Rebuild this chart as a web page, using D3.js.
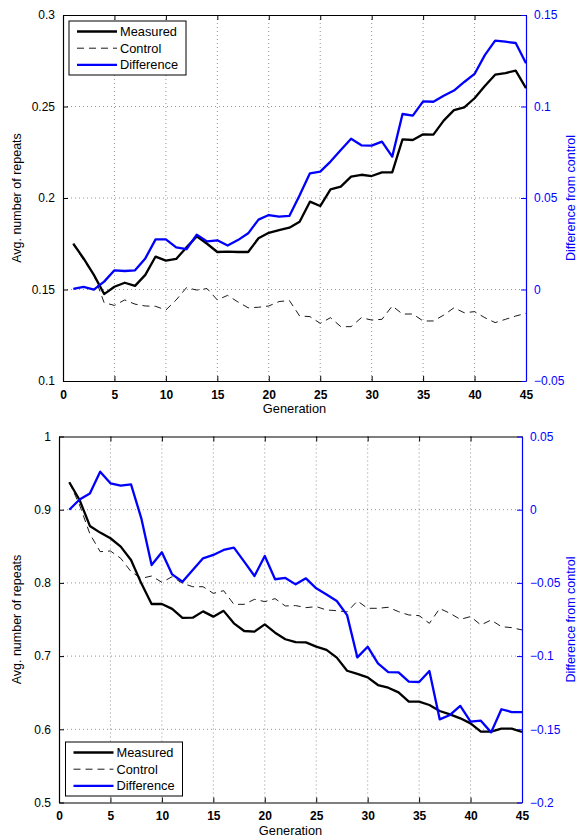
<!DOCTYPE html>
<html>
<head>
<meta charset="utf-8">
<script src="https://cdn.jsdelivr.net/npm/d3@7"></script>
<style>
 body { margin:0; background:#fff; }
 svg text { font-family: "Liberation Sans", Arial, sans-serif; }
</style>
</head>
<body>
<div id="chart"></div>
<script>
// generations 1..45
var generations = d3.range(1, 46);

// top panel
var topMeasured = [0.175,0.167,0.158,0.1475,0.1515,0.1537,0.152,0.158,0.168,0.1658,
  0.1667,0.173,0.179,0.175,0.1705,0.1707,0.1705,0.1705,0.178,0.181,
  0.1825,0.1838,0.187,0.198,0.1956,0.2047,0.2062,0.2117,0.2127,0.212,
  0.214,0.214,0.232,0.2317,0.2348,0.2346,0.2423,0.248,0.2495,0.2545,
  0.2612,0.2674,0.2683,0.2696,0.26];
var topControl = [0.175,0.166,0.158,0.1428,0.1413,0.1443,0.142,0.141,0.1408,0.1388,
  0.1443,0.151,0.1497,0.1505,0.1443,0.1468,0.1432,0.140,0.1403,0.141,
  0.1434,0.144,0.1355,0.1352,0.1315,0.1346,0.1297,0.1297,0.1346,0.1333,
  0.1337,0.141,0.1366,0.1366,0.1328,0.1328,0.136,0.140,0.1373,0.1379,
  0.1346,0.1319,0.1337,0.1355,0.137];
var topDiff = [0.0003,0.0014,-0.0001,0.0043,0.0105,0.0101,0.0105,0.017,0.0274,0.0274,
  0.023,0.022,0.030,0.0263,0.0269,0.024,0.027,0.0307,0.0382,0.0407,
  0.0398,0.0402,0.0515,0.0635,0.0644,0.0699,0.0762,0.0824,0.0788,0.0786,
  0.0808,0.0726,0.0959,0.095,0.1028,0.1026,0.1059,0.1087,0.1134,0.1178,
  0.1281,0.136,0.1354,0.1347,0.1236];

// bottom panel
var botMeasured = [0.9375,0.9133,0.8778,0.8687,0.861,0.8495,0.8313,0.7994,0.7712,0.7712,
  0.7645,0.7522,0.7525,0.7611,0.7539,0.7618,0.7448,0.7343,0.7334,0.7434,
  0.732,0.723,0.719,0.7188,0.7129,0.7084,0.6979,0.680,0.6756,0.671,
  0.6605,0.6568,0.6505,0.6377,0.6377,0.6332,0.625,0.6204,0.615,0.6081,
  0.5967,0.5967,0.6008,0.6008,0.5963];
var botControl = [0.9375,0.9064,0.867,0.8427,0.8436,0.8336,0.8154,0.8062,0.8094,0.8008,
  0.8085,0.7994,0.7948,0.7948,0.7857,0.7894,0.7707,0.7707,0.7776,0.7744,
  0.7785,0.7685,0.769,0.7662,0.7676,0.763,0.7621,0.7603,0.7753,0.7653,
  0.7653,0.7667,0.7607,0.7562,0.7553,0.7448,0.765,0.7585,0.7502,0.754,
  0.7425,0.7493,0.7402,0.7389,0.7357];
var botDiff = [0.0,0.007,0.0111,0.026,0.018,0.0164,0.0173,-0.0059,-0.0378,-0.0291,
  -0.0442,-0.0492,-0.0412,-0.0332,-0.0309,-0.0275,-0.0259,-0.0355,-0.0453,-0.0316,
  -0.0475,-0.0466,-0.051,-0.0469,-0.0537,-0.0579,-0.0624,-0.072,-0.1009,-0.0936,
  -0.1049,-0.1109,-0.1111,-0.1175,-0.1177,-0.1102,-0.1432,-0.1402,-0.134,-0.1448,
  -0.1441,-0.1521,-0.1363,-0.1382,-0.1382];

var xTicks = [0,5,10,15,20,25,30,35,40,45];
var topLeftTicks = [0.1,0.15,0.2,0.25,0.3];
var topRightTicks = [-0.05,0,0.05,0.1,0.15];
var botLeftTicks = [0.5,0.6,0.7,0.8,0.9,1];
var botRightTicks = [-0.2,-0.15,-0.1,-0.05,0,0.05];

var legendLabels = ["Measured","Control","Difference"];

var blue = "#0000ff";

var svg = d3.select("#chart").append("svg")
    .attr("width",580)
    .attr("height",837);

function fmt(d) {
  var s = String(+d.toFixed(3));
  return d < 0 ? "\u2212" + s.slice(1) : s;
}

function drawPanel(p) {
  var g = svg.append("g");
  var x = d3.scaleLinear().domain([0,45]).range([p.left,p.right]);
  var yL = d3.scaleLinear().domain(p.leftDomain).range([p.bottom,p.top]);
  var yR = d3.scaleLinear().domain(p.rightDomain).range([p.bottom,p.top]);

  // grid (dotted)
  g.selectAll("line.gx").data(xTicks.slice(1,-1)).enter().append("line")
    .attr("x1",function(d){return x(d);}).attr("x2",function(d){return x(d);})
    .attr("y1",p.top).attr("y2",p.bottom)
    .attr("stroke","#777").attr("stroke-width",0.8).attr("stroke-dasharray","1,3");
  g.selectAll("line.gy").data(p.leftTicks.slice(1,-1)).enter().append("line")
    .attr("x1",p.left).attr("x2",p.right)
    .attr("y1",function(d){return yL(d);}).attr("y2",function(d){return yL(d);})
    .attr("stroke","#777").attr("stroke-width",0.8).attr("stroke-dasharray","1,3");

  // axes
  var bottomAx = g.append("g").attr("transform","translate(0,"+p.bottom+")")
    .call(d3.axisBottom(x).tickValues(xTicks).tickSizeInner(-5).tickSizeOuter(0).tickPadding(9));
  bottomAx.selectAll("text").attr("font-weight","bold");
  var topAx = g.append("g").attr("transform","translate(0,"+p.top+")")
    .call(d3.axisTop(x).tickValues(xTicks).tickSizeInner(-5).tickSizeOuter(0));
  topAx.selectAll("text").remove();
  var leftAx = g.append("g").attr("transform","translate("+p.left+",0)")
    .call(d3.axisLeft(yL).tickValues(p.leftTicks).tickFormat(fmt).tickSizeInner(-5).tickSizeOuter(0).tickPadding(8));
  var rightAx = g.append("g").attr("transform","translate("+p.right+",0)")
    .call(d3.axisRight(yR).tickValues(p.rightTicks).tickFormat(fmt).tickSizeInner(-5).tickSizeOuter(0).tickPadding(8));
  rightAx.selectAll("line").attr("stroke",blue);
  rightAx.selectAll("text").attr("fill",blue);
  [bottomAx,topAx,leftAx,rightAx].forEach(function(a){
    a.selectAll("text").attr("font-size",12).attr("font-family","Liberation Sans, Arial, sans-serif");
    a.select(".domain").attr("stroke-width",1.2);
  });
  rightAx.select(".domain").attr("stroke",blue);

  // lines
  var lineL = d3.line().x(function(d,i){return x(generations[i]);}).y(function(d){return yL(d);});
  var lineR = d3.line().x(function(d,i){return x(generations[i]);}).y(function(d){return yR(d);});
  g.append("path").datum(p.control).attr("d",lineL)
    .attr("fill","none").attr("stroke","#000").attr("stroke-width",0.9).attr("stroke-dasharray","7,5");
  g.append("path").datum(p.measured).attr("d",lineL)
    .attr("fill","none").attr("stroke","#000").attr("stroke-width",2.3).attr("stroke-linejoin","round");
  g.append("path").datum(p.diff).attr("d",lineR)
    .attr("fill","none").attr("stroke",blue).attr("stroke-width",2.3).attr("stroke-linejoin","round");

  // axis titles
  g.append("text").attr("x",(p.left+p.right)/2).attr("y",p.bottom+32)
    .attr("text-anchor","middle").attr("font-size",12.8).text("Generation");
  g.append("text").attr("transform","translate(21,"+(p.top+p.bottom)/2+") rotate(-90)")
    .attr("text-anchor","middle").attr("font-size",12.5).text("Avg. number of repeats");
  g.append("text").attr("transform","translate(575,"+(p.top+p.bottom)/2+") rotate(-90)")
    .attr("text-anchor","middle").attr("font-size",12.5).attr("fill",blue).text("Difference from control");

  // legend
  var lg = g.append("g").attr("transform","translate("+p.legX+","+p.legY+")");
  lg.append("rect").attr("width",117).attr("height",54)
    .attr("fill","#fff").attr("stroke","#000").attr("stroke-width",1);
  var styles = [
    {c:"#000",w:2.3,dash:null},
    {c:"#000",w:0.9,dash:"7,5"},
    {c:blue,w:2.3,dash:null}];
  legendLabels.forEach(function(lab,i){
    var yy = 10.5 + i*16.7;
    lg.append("line").attr("x1",8).attr("x2",48).attr("y1",yy).attr("y2",yy)
      .attr("stroke",styles[i].c).attr("stroke-width",styles[i].w)
      .attr("stroke-dasharray",styles[i].dash);
    lg.append("text").attr("x",51).attr("y",yy+4.5).attr("font-size",12.8).text(lab);
  });
}

drawPanel({left:63,right:526,top:15,bottom:381,
  leftDomain:[0.1,0.3], rightDomain:[-0.05,0.15],
  leftTicks:topLeftTicks, rightTicks:topRightTicks,
  measured:topMeasured, control:topControl, diff:topDiff,
  legX:69, legY:21});
drawPanel({left:59,right:522,top:436.5,bottom:802.5,
  leftDomain:[0.5,1], rightDomain:[-0.2,0.05],
  leftTicks:botLeftTicks, rightTicks:botRightTicks,
  measured:botMeasured, control:botControl, diff:botDiff,
  legX:65.5, legY:742});
</script>
</body>
</html>
